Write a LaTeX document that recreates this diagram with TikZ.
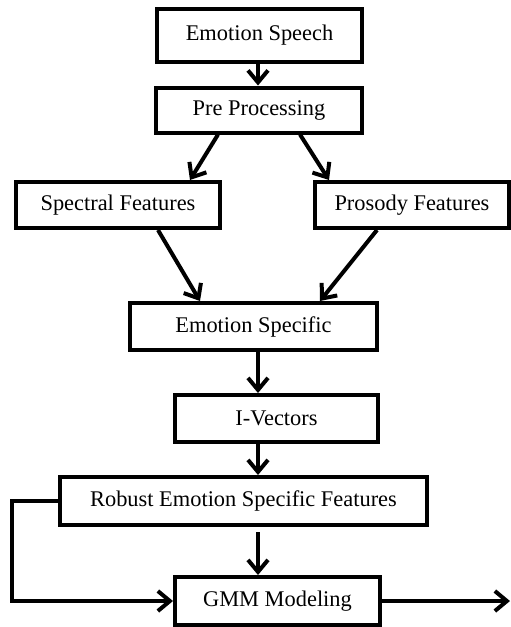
\documentclass[tikz,border=0pt]{standalone}
\usepackage{fontspec}
\setmainfont{Liberation Serif}
\usetikzlibrary{arrows.meta}

\begin{document}
\begin{tikzpicture}[line cap=butt,line join=miter,x=1pt,y=-1pt,
  >={Straight Barb[length=12pt,width=20pt]},
  box/.style={draw=black,line width=4pt,fill=white,inner sep=0pt,font=\fontsize{22.4}{26}\selectfont},
  flow/.style={->,line width=4pt}]
\useasboundingbox (0,0) rectangle (511,627);
%\draw [help lines, step=50] (0,0) grid (511,627);
\coordinate (axis) at (258,0);
\coordinate (loop) at (12,501);
\coordinate (out) at (510,601);

\node[box,minimum width=205,minimum height=53] (speech) at (259.5,35.5) {Emotion Speech};
\node[box,minimum width=206,minimum height=45] (pre) at (259,110) {Pre Processing};
\node[box,minimum width=204,minimum height=46] (spec) at (118,205) {Spectral Features};
\node[box,minimum width=194,minimum height=46] (pros) at (412,205) {Prosody Features};
\node[box,minimum width=247,minimum height=47] (emospec) at (253.5,326.5) {Emotion Specific};
\node[box,minimum width=203,minimum height=47] (ivec) at (276.5,418.5) {I-Vectors};
\node[box,minimum width=367,minimum height=48] (robust) at (243.5,501) {Robust Emotion Specific Features};
\node[box,minimum width=205,minimum height=48] (gmm) at (277.5,601) {GMM Modeling};

\draw[flow] (speech.south -| axis) -- (pre.north -| axis);
\draw[flow] ([xshift=-41pt]pre.south) -- ([xshift=72pt]spec.north);
\draw[flow] ([xshift=41pt]pre.south) -- ([xshift=-83pt]pros.north);
\draw[flow] ([xshift=40pt]spec.south) -- ([xshift=-53.5pt]emospec.north);
\draw[flow] ([xshift=-35pt]pros.south) -- ([xshift=66.5pt]emospec.north);
\draw[flow] (emospec.south -| axis) -- (ivec.north -| axis);
\draw[flow] (ivec.south -| axis) -- (robust.north -| axis);
\draw[flow] ([yshift=-5pt]robust.south -| axis) -- (gmm.north -| axis);
\draw[flow] (robust.west) -- (loop) |- (gmm.west);
\draw[flow] (gmm.east) -- (out);
\end{tikzpicture}
\end{document}
